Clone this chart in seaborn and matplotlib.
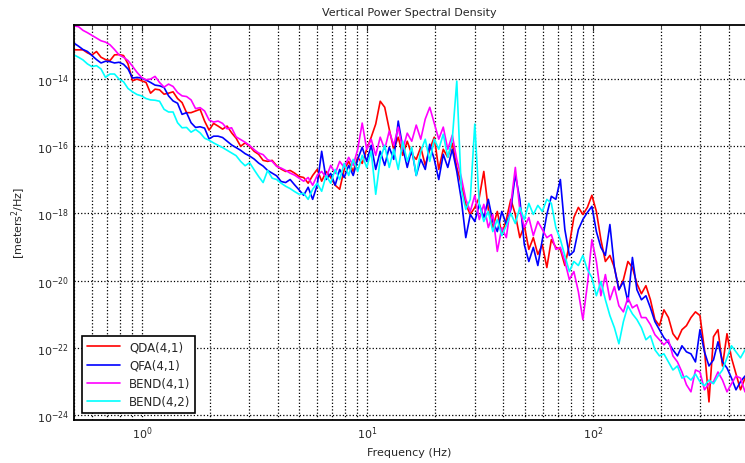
import numpy as np
import pandas as pd
import matplotlib
matplotlib.use("Agg")
import matplotlib.pyplot as plt
import seaborn as sns
from matplotlib.ticker import FixedLocator, NullFormatter, LogFormatterMathtext

sns.set_style("white")
plt.rcParams['font.family'] = ['DejaVu Sans']

# frequency bins of the spectra (log spaced, Hz)
freq_hz = np.geomspace(0.5, 473, 150)

series_names = ["QDA(4,1)", "QFA(4,1)", "BEND(4,1)", "BEND(4,2)"]
series_colors = ["#ff0000", "#0000ff", "#ff00ff", "#00ffff"]

# log10 of PSD [meters^2/Hz]
qda_log = [
    -13.13, -13.13, -13.13, -13.22, -13.28, -13.18, -13.35, -13.42, -13.45, -13.28,
    -13.27, -13.30, -13.55, -14.05, -14.00, -14.05, -14.10, -14.42, -14.30, -14.32,
    -14.45, -14.42, -14.38, -14.58, -14.70, -15.00, -15.00, -14.95, -14.90, -15.25,
    -15.52, -15.32, -15.40, -15.49, -15.40, -15.60, -15.76, -16.00, -15.90, -16.00,
    -16.15, -16.24, -16.42, -16.45, -16.42, -16.58, -16.68, -16.75, -16.72, -16.80,
    -16.90, -16.93, -17.10, -16.87, -16.69, -17.04, -16.75, -16.93, -17.16, -17.28,
    -16.69, -16.45, -16.75, -16.33, -16.51, -16.09, -15.73, -15.34, -14.66, -14.84,
    -15.49, -16.09, -15.73, -16.27, -15.85, -16.24, -16.39, -16.03, -16.57, -16.09,
    -15.73, -16.69, -16.09, -16.33, -15.91, -16.63, -17.13, -17.73, -18.03, -17.82,
    -17.52, -16.75, -17.88, -18.42, -17.94, -18.63, -18.18, -17.58, -18.03, -18.72,
    -18.36, -19.07, -18.72, -19.22, -18.93, -19.61, -18.78, -19.01, -19.07, -19.55,
    -18.93, -18.12, -17.82, -18.03, -17.82, -17.46, -17.94, -18.78, -19.43, -19.25,
    -19.61, -20.27, -19.97, -19.43, -19.61, -20.09, -20.39, -20.15, -20.57, -21.16,
    -21.34, -20.87, -21.10, -21.58, -21.76, -21.46, -21.34, -21.10, -20.93, -21.04,
    -22.06, -23.61, -21.67, -21.46, -22.54, -21.58, -22.30, -22.78, -23.25, -22.90,
]
qfa_log = [
    -12.93, -13.02, -13.12, -13.18, -13.30, -13.42, -13.52, -13.47, -13.48, -13.52,
    -13.50, -13.56, -13.70, -13.97, -13.95, -13.97, -14.03, -14.10, -14.18, -14.20,
    -14.25, -14.50, -14.65, -14.72, -15.05, -15.00, -15.30, -15.44, -15.42, -15.46,
    -15.78, -15.70, -15.70, -15.74, -15.85, -15.96, -16.04, -16.12, -16.22, -16.29,
    -16.38, -16.50, -16.59, -16.72, -16.80, -16.88, -17.05, -17.08, -16.99, -17.15,
    -17.30, -17.46, -17.22, -17.58, -17.16, -16.15, -16.99, -16.81, -17.16, -16.69,
    -16.93, -16.57, -16.87, -16.39, -16.03, -16.45, -15.97, -16.69, -16.15, -16.57,
    -16.03, -16.39, -15.25, -16.03, -16.63, -16.09, -16.87, -16.39, -16.69, -15.94,
    -16.39, -16.99, -16.24, -16.63, -16.09, -16.75, -17.58, -18.72, -18.03, -18.24,
    -17.73, -18.12, -17.58, -18.24, -18.54, -17.94, -18.33, -17.88, -16.84, -17.58,
    -18.93, -19.43, -19.01, -19.55, -18.78, -18.03, -17.49, -17.58, -16.99, -18.48,
    -19.25, -19.13, -18.48, -18.18, -17.97, -17.79, -18.54, -19.01, -19.25, -18.33,
    -19.61, -20.27, -20.03, -20.63, -19.31, -20.27, -20.57, -20.45, -20.81, -21.22,
    -21.46, -21.70, -21.85, -22.06, -22.24, -21.94, -22.12, -22.18, -22.42, -21.46,
    -22.12, -22.54, -22.36, -21.82, -22.42, -22.60, -22.90, -23.25, -23.01, -22.84,
]
bend41_log = [
    -12.42, -12.44, -12.55, -12.62, -12.70, -12.78, -12.86, -12.90, -12.98, -13.12,
    -13.28, -13.35, -13.45, -13.62, -13.80, -13.95, -14.02, -14.00, -13.92, -14.10,
    -14.24, -14.15, -14.22, -14.40, -14.50, -14.52, -14.62, -14.88, -14.85, -14.95,
    -15.22, -15.28, -15.25, -15.32, -15.48, -15.45, -15.72, -15.80, -15.88, -15.98,
    -16.10, -16.20, -16.25, -16.40, -16.45, -16.60, -16.65, -16.72, -16.80, -16.86,
    -16.95, -17.04, -16.93, -17.16, -16.87, -16.75, -16.93, -16.57, -16.81, -16.45,
    -16.63, -16.33, -16.57, -16.09, -15.31, -16.09, -15.79, -16.27, -15.73, -16.09,
    -15.55, -15.97, -15.43, -16.09, -15.61, -15.85, -15.37, -15.79, -15.19, -14.84,
    -15.31, -15.79, -15.43, -16.09, -15.67, -16.39, -16.93, -17.58, -17.94, -17.46,
    -18.18, -17.73, -18.42, -18.03, -19.13, -18.42, -18.72, -17.73, -16.63, -17.88,
    -18.42, -18.12, -18.66, -18.24, -18.48, -18.72, -18.63, -19.07, -19.01, -19.43,
    -19.97, -19.73, -20.33, -21.16, -20.12, -18.78, -19.43, -20.45, -19.82, -20.57,
    -20.18, -20.75, -20.93, -20.51, -20.81, -20.72, -21.10, -21.10, -21.31, -21.61,
    -21.76, -21.91, -21.76, -22.24, -22.42, -22.72, -23.10, -23.31, -22.66, -22.72,
    -23.25, -23.07, -23.01, -22.72, -22.96, -23.31, -23.07, -22.84, -22.90, -23.31,
]
bend42_log = [
    -13.28, -13.35, -13.43, -13.55, -13.63, -13.60, -13.70, -13.95, -13.85, -13.85,
    -14.00, -14.08, -14.28, -14.38, -14.46, -14.50, -14.58, -14.62, -14.63, -14.66,
    -14.90, -14.98, -14.98, -15.30, -15.45, -15.44, -15.58, -15.50, -15.60, -15.76,
    -15.82, -15.90, -15.97, -16.04, -16.12, -16.20, -16.28, -16.45, -16.58, -16.49,
    -16.70, -16.90, -17.08, -16.72, -16.95, -16.99, -17.10, -17.19, -17.26, -17.35,
    -17.43, -17.40, -17.58, -17.28, -17.10, -17.34, -16.87, -17.10, -16.69, -16.99,
    -16.51, -16.87, -16.39, -16.75, -16.27, -16.63, -16.15, -17.43, -16.39, -15.97,
    -16.63, -16.09, -16.69, -15.85, -16.45, -16.03, -16.87, -16.15, -15.79, -16.45,
    -15.79, -16.09, -15.64, -16.33, -15.79, -14.06, -17.28, -17.88, -17.58, -15.34,
    -17.73, -18.24, -17.94, -18.54, -18.18, -18.66, -18.36, -18.00, -18.30, -17.82,
    -18.18, -17.70, -18.03, -17.76, -17.94, -17.58, -17.70, -18.42, -18.78, -19.25,
    -19.73, -19.43, -19.55, -19.25, -19.67, -19.91, -20.45, -20.03, -20.57, -21.04,
    -21.40, -21.88, -21.22, -20.75, -20.99, -21.16, -21.40, -21.76, -21.64, -22.06,
    -22.24, -22.18, -22.42, -22.66, -22.54, -22.90, -22.84, -22.96, -22.78, -23.01,
    -23.13, -22.96, -23.07, -22.84, -22.66, -22.30, -21.94, -22.12, -22.30, -22.06,
]

frames = []
for name, vals in zip(series_names, [qda_log, qfa_log, bend41_log, bend42_log]):
    frames.append(pd.DataFrame({"freq": freq_hz,
                                "psd": 10.0 ** np.array(vals),
                                "series": name}))
df = pd.concat(frames, ignore_index=True)

fig = plt.figure(figsize=(7.45, 4.64), dpi=100)
ax = fig.add_axes([0.0993, 0.0933, 0.9007, 0.8507])

sns.lineplot(data=df, x="freq", y="psd", hue="series", hue_order=series_names,
             palette=dict(zip(series_names, series_colors)), estimator=None,
             sort=False, linewidth=1.2, ax=ax)

ax.set_xscale("log")
ax.set_yscale("log")
ax.set_xlim(0.5, 473)
ax.set_ylim(10 ** -24.14, 10 ** -12.39)

# y: labels every 2 decades, unlabeled ticks on odd decades
ax.yaxis.set_major_locator(FixedLocator([10.0 ** e for e in range(-24, -13, 2)]))
ax.yaxis.set_minor_locator(FixedLocator([10.0 ** e for e in range(-23, -12, 2)]))
ax.yaxis.set_major_formatter(LogFormatterMathtext())
ax.yaxis.set_minor_formatter(NullFormatter())
ax.xaxis.set_minor_formatter(NullFormatter())

# the plot box is cut at the right edge of the picture
ax.tick_params(which="both", direction="in", top=True, right=False, labelsize=8)
ax.tick_params(which="major", length=4)
ax.tick_params(which="minor", length=2)

ax.xaxis.grid(True, which="both", linestyle=":", color="k", linewidth=0.9)
ax.yaxis.grid(True, which="major", linestyle=":", color="k", linewidth=0.9)
for s in ax.spines.values():
    s.set_color("k")
    s.set_linewidth(1.3)
ax.spines["right"].set_visible(False)

ax.set_title("Vertical Power Spectral Density", fontsize=8, pad=7)
ax.set_xlabel("Frequency (Hz)", fontsize=8)
ax.set_ylabel("[meters$^2$/Hz]", fontsize=8, labelpad=6)

sns.move_legend(ax, "lower left", bbox_to_anchor=(0.012, 0.017), borderaxespad=0,
                title=None, frameon=True, fancybox=False, framealpha=1,
                edgecolor="k", fontsize=8.5, handlelength=2.8, labelspacing=0.45)
ax.get_legend().get_frame().set_linewidth(1.2)

fig.savefig("out.png", dpi=100)
